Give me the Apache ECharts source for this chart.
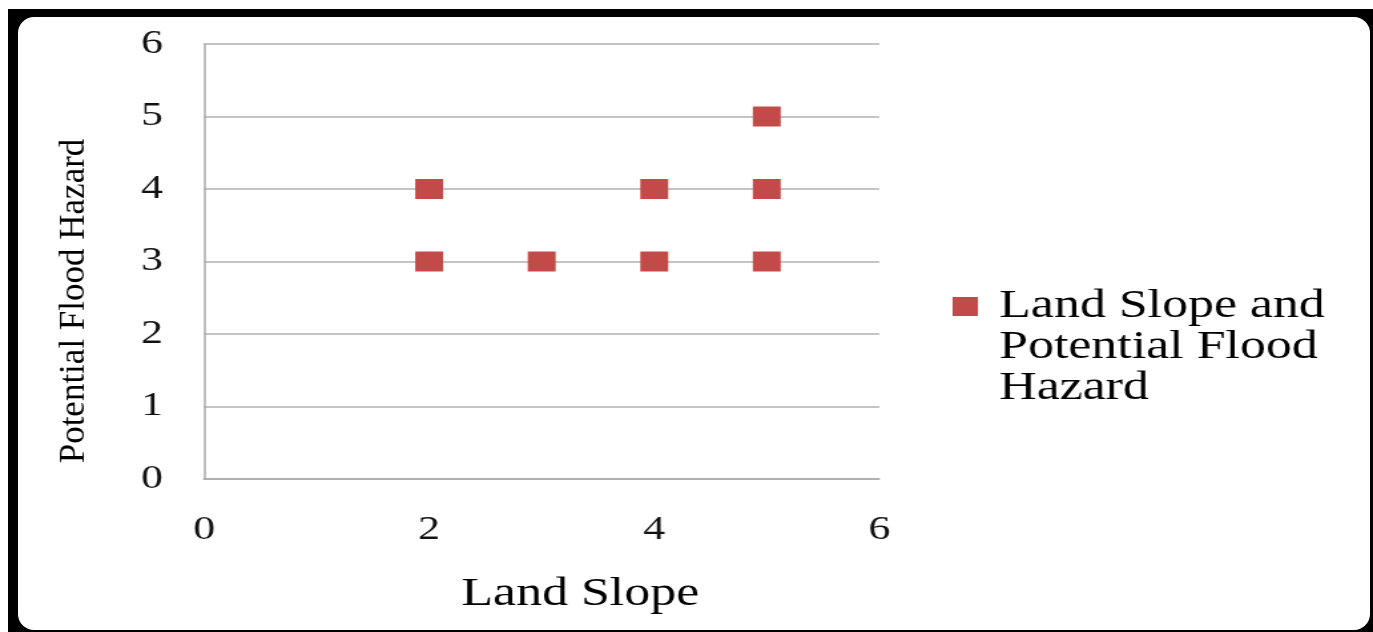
<!DOCTYPE html>
<html>
<head>
<meta charset="utf-8">
<script src="https://cdn.jsdelivr.net/npm/echarts@6/dist/echarts.min.js"></script>
<style>
  html, body { margin:0; padding:0; width:1373px; height:632px; background:#fff; overflow:hidden; }
  #frame { position:absolute; left:8px; top:9px; right:0; bottom:0; background:#000; }
  #inner { position:absolute; left:18px; top:17px; width:1352px; height:613px; background:#fff; border-radius:16px; }
  #chart { position:absolute; left:0; top:0; width:1032px; height:632px; transform:scaleX(1.3304); transform-origin:0 0; }
</style>
</head>
<body>
<div id="frame"></div>
<div id="inner"></div>
<div id="chart"></div>
<script>
// Data
const seriesName = 'Land Slope and Potential Flood Hazard';
const landSlope = [2, 2, 3, 4, 4, 5, 5, 5];
const floodHazard = [4, 3, 3, 4, 3, 5, 4, 3];
const xTitle = 'Land Slope';
const yTitle = 'Potential Flood Hazard';
const legendLines = ['Land Slope and', 'Potential Flood', 'Hazard'];

const S = 1.3304; // horizontal stretch of the reference
const font = '"Liberation Serif", "Times New Roman", serif';
const points = landSlope.map((x, i) => [x, floodHazard[i]]);

const chart = echarts.init(document.getElementById('chart'), null, { renderer: 'canvas' });
chart.setOption({
  animation: false,
  backgroundColor: 'transparent',
  textStyle: { fontFamily: font },
  grid: { left: 153.4, right: 371.1, top: 44, bottom: 153, containLabel: false },
  xAxis: {
    type: 'value', min: 0, max: 6, interval: 2,
    name: xTitle, nameLocation: 'middle', nameGap: 96,
    nameTextStyle: { fontFamily: font, fontSize: 39, color: '#000', padding: [0, 0, 0, 58] },
    axisLine: { show: true, lineStyle: { color: '#a8a8a8', width: 1.5 } },
    axisTick: { show: false },
    splitLine: { show: false },
    axisLabel: { fontFamily: font, fontSize: 33, color: '#111', margin: 35 }
  },
  yAxis: {
    type: 'value', min: 0, max: 6, interval: 1,
    axisLine: { show: true, lineStyle: { color: '#a8a8a8', width: 1.5 } },
    axisTick: { show: false },
    splitLine: { show: true, lineStyle: { color: '#b0b0b0', width: 1.5 } },
    axisLabel: { fontFamily: font, fontSize: 33, color: '#111', margin: 31 }
  },
  legend: {
    show: true,
    left: 716, top: 204,
    padding: 0,
    orient: 'vertical',
    icon: 'rect',
    itemWidth: 19, itemHeight: 19,
    formatter: () => '\n\n' + legendLines.join('\n'),
    textStyle: { fontFamily: font, fontSize: 39, lineHeight: 41, color: '#000', padding: [0, 0, 0, 11] },
    data: [seriesName]
  },
  graphic: [{
    type: 'text',
    x: 56, y: 301,
    rotation: Math.PI / 2,
    scaleY: 1 / S,
    style: {
      text: yTitle, fontFamily: font, fontSize: 35, fill: '#000',
      align: 'center', verticalAlign: 'middle'
    }
  }],
  series: [{
    name: seriesName,
    type: 'scatter',
    symbol: 'rect',
    symbolSize: [21, 20],
    itemStyle: { color: '#C24B4A', opacity: 1 },
    data: points
  }]
});
</script>
</body>
</html>
